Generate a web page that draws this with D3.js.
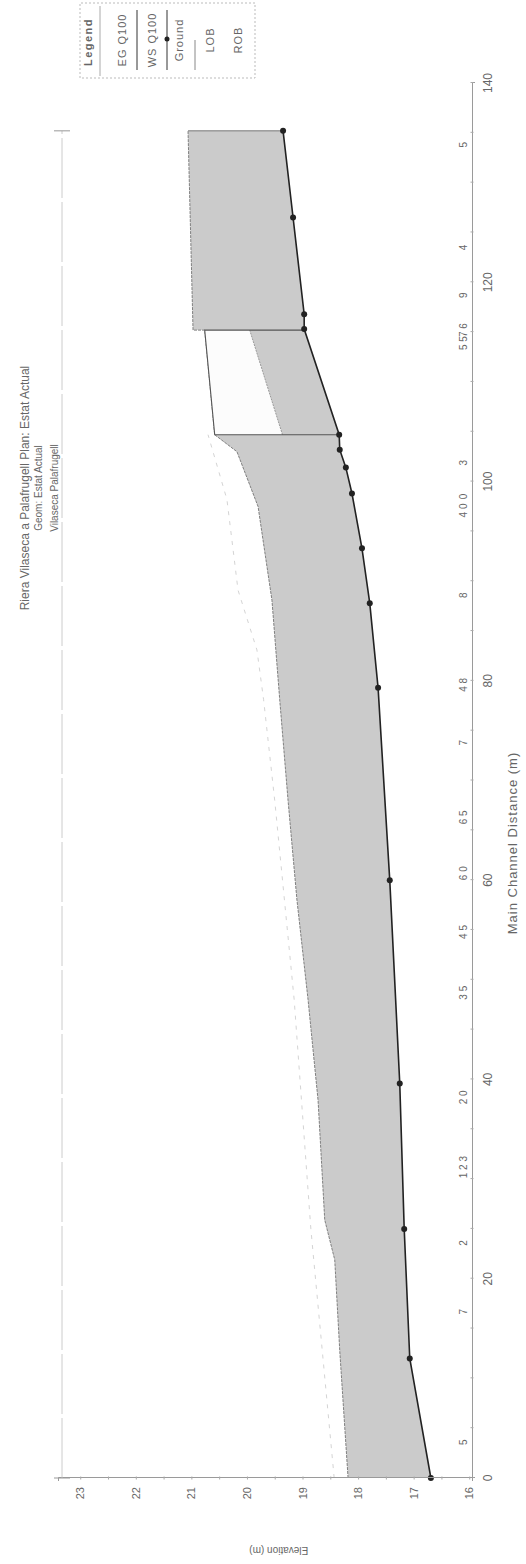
<!DOCTYPE html>
<html>
<head>
<meta charset="utf-8">
<script src="https://cdn.jsdelivr.net/npm/d3@7"></script>
<style>
  body { margin: 0; background: #fff; }
  text { font-family: "Liberation Sans", Arial, sans-serif; fill: #666; }
</style>
</head>
<body>
<svg id="chart" width="526" height="1564"></svg>
<script>
// profile values (distance along main channel in m, elevation in m)
const groundDist = [0, 12.0, 25.0, 39.6, 60.0, 79.3, 87.8, 93.3, 98.8, 101.4, 103.2, 104.7, 115.3, 116.8, 126.5, 135.2];
const groundElev = [16.69, 17.07, 17.17, 17.25, 17.43, 17.64, 17.79, 17.93, 18.11, 18.22, 18.33, 18.34, 18.97, 18.97, 19.17, 19.35];

const wsDist = [0, 12.8, 21.9, 25.9, 37.9, 48.0, 58.0, 68.0, 78.1, 88.1, 97.5, 103.0, 104.7, 115.2, 115.2, 135.2];
const wsElev = [18.18, 18.33, 18.42, 18.60, 18.72, 18.90, 19.10, 19.26, 19.41, 19.55, 19.80, 20.18, 20.58, 20.76, 20.97, 21.06];

const egDist = [0, 25.0, 48.0, 68.0, 78.1, 83.1, 89.1, 98.2, 104.7];
const egElev = [18.43, 18.85, 19.15, 19.50, 19.70, 19.82, 20.16, 20.36, 20.70];

// bridge deck: downstream face, upstream face
const bridgeDist = [104.7, 115.2];
const bridgeHigh = [20.58, 20.76];
const bridgeLow = [19.36, 19.95];

const distTicks = [0, 20, 40, 60, 80, 100, 120, 140];
const elevTicks = [16, 17, 18, 19, 20, 21, 22, 23];

const stationDist = [3.6, 16.7, 23.6, 31.2, 38.2, 48.7, 54.8, 60.7, 66.3, 73.8, 79.6, 88.6, 97.1, 98.5, 101.9, 113.9, 115.2, 118.7, 123.5, 133.8];
const stationText = ["5", "7", "2", "1 2 3", "2 0", "3 5", "4 5", "6 0", "6 5", "7", "4 8", "8", "4 0", "0", "3", "5 5", "7 6", "9", "4", "5"];

const legendItems = ["EG  Q100", "WS  Q100", "Ground", "LOB", "ROB"];

const titleText = "Riera Vilaseca a Palafrugell        Plan: Estat Actual";
const geomText = "Geom: Estat Actual";
const reachText = "Vilaseca Palafrugell";

// the chart is laid out as a normal landscape plot and then turned a quarter turn
const W = 1564, H = 526;
const svg = d3.select("#chart");
const g = svg.append("g").attr("transform", `translate(0,${W}) rotate(-90)`);

const x = d3.scaleLinear().domain([0, 140]).range([86, 1481]);
const y = d3.scaleLinear().domain([15.95, 23.4]).range([472, 58]);
const line = d3.line().x(p => x(p.d)).y(p => y(p.e));

const ground = groundDist.map((d, i) => ({d, e: groundElev[i]}));
const ws = wsDist.map((d, i) => ({d, e: wsElev[i]}));
const eg = egDist.map((d, i) => ({d, e: egElev[i]}));

// water body: WS on top, ground below
const waterPoly = ws.concat(ground.slice().reverse());
g.append("path")
  .attr("d", line(waterPoly) + "Z")
  .attr("fill", "#cbcbcb")
  .attr("stroke", "none");

// upstream closing edge
g.append("line")
  .attr("x1", x(135.2)).attr("x2", x(135.2))
  .attr("y1", y(wsElev[wsElev.length - 1])).attr("y2", y(groundElev[groundElev.length - 1]))
  .attr("stroke", "#777").attr("stroke-width", 1);

// water surface edge
g.append("path")
  .attr("d", line(ws))
  .attr("fill", "none")
  .attr("stroke", "#808080")
  .attr("stroke-width", 1)
  .attr("stroke-dasharray", "3,1");

// energy grade, faint
g.append("path")
  .attr("d", line(eg))
  .attr("fill", "none")
  .attr("stroke", "#d4d4d4")
  .attr("stroke-width", 1)
  .attr("stroke-dasharray", "4,6");

// bridge deck
const deck = [
  {d: bridgeDist[0], e: bridgeHigh[0]}, {d: bridgeDist[1], e: bridgeHigh[1]},
  {d: bridgeDist[1], e: bridgeLow[1]}, {d: bridgeDist[0], e: bridgeLow[0]}
];
g.append("path")
  .attr("d", line(deck) + "Z")
  .attr("fill", "#fcfcfc")
  .attr("stroke", "none");
g.append("path")
  .attr("d", line([deck[3], deck[2]]))
  .attr("fill", "none").attr("stroke", "#9a9a9a").attr("stroke-dasharray", "2,1");
const gAt = d => groundElev[groundDist.findIndex(v => Math.abs(v - d) < 0.2)];
g.append("path")
  .attr("d", line([
    {d: bridgeDist[0], e: gAt(104.7)}, deck[0], deck[1], {d: bridgeDist[1], e: gAt(115.3)}
  ]))
  .attr("fill", "none").attr("stroke", "#555").attr("stroke-width", 1.1);

// ground line with markers
g.append("path")
  .attr("d", line(ground))
  .attr("fill", "none")
  .attr("stroke", "#222")
  .attr("stroke-width", 1.6);
g.selectAll(".gdot").data(ground)
  .enter().append("circle")
  .attr("class", "gdot")
  .attr("cx", p => x(p.d)).attr("cy", p => y(p.e))
  .attr("r", 3)
  .attr("fill", "#222");

// distance axis (bottom of the landscape plot)
const xAxis = g.append("g").attr("transform", `translate(0,472)`);
xAxis.call(d3.axisBottom(x).tickValues(d3.range(0, 141, 5)).tickSize(3).tickFormat(""));
xAxis.selectAll(".tick line").attr("stroke", "#aaa").attr("transform", "translate(0,-1.5)");
xAxis.select(".domain").attr("stroke", "#9a9a9a");
xAxis.selectAll(".lbl").data(distTicks).enter().append("text")
  .attr("class", "lbl")
  .attr("x", d => x(d)).attr("y", 20)
  .attr("text-anchor", "middle")
  .attr("font-size", 12)
  .text(d => d);

// river station labels just above the distance axis
g.selectAll(".sta").data(stationDist).enter().append("text")
  .attr("class", "sta")
  .attr("x", d => x(d)).attr("y", 467)
  .attr("text-anchor", "middle")
  .attr("font-size", 10)
  .attr("fill", "#888")
  .text((d, i) => stationText[i]);

// elevation axis
const yAxis = g.append("g").attr("transform", `translate(86,0)`);
yAxis.call(d3.axisLeft(y).tickValues(d3.range(16, 23.01, 0.5)).tickSize(3).tickFormat(""));
yAxis.selectAll(".tick line").attr("stroke", "#aaa").attr("transform", "translate(1.5,0)");
yAxis.select(".domain").attr("stroke", "#9a9a9a");
yAxis.selectAll(".lbl").data(elevTicks).enter().append("text")
  .attr("class", "lbl")
  .attr("x", -9).attr("y", d => y(d) + 4)
  .attr("text-anchor", "end")
  .attr("font-size", 11)
  .text(d => d);

g.append("text")
  .attr("transform", `translate(17,${(y(16) + y(23)) / 2 + 4}) rotate(-90)`)
  .attr("text-anchor", "middle")
  .attr("font-size", 10)
  .text("Elevation (m)");

g.append("text")
  .attr("x", 721).attr("y", 517)
  .attr("text-anchor", "middle")
  .attr("font-size", 13)
  .attr("letter-spacing", 1)
  .text("Main Channel Distance (m)");

// titles and reach line at the top
g.append("text").attr("x", 1076).attr("y", 29).attr("text-anchor", "middle").attr("font-size", 12).attr("fill", "#555").text(titleText);
g.append("text").attr("x", 1076).attr("y", 42).attr("text-anchor", "middle").attr("font-size", 10).text(geomText);
g.append("text").attr("x", 1076).attr("y", 58).attr("text-anchor", "middle").attr("font-size", 10).text(reachText);

g.append("line")
  .attr("x1", x(0)).attr("x2", x(135.2)).attr("y1", 62).attr("y2", 62)
  .attr("stroke", "#ccc").attr("stroke-width", 1).attr("stroke-dasharray", "60,4");
[0, 135.2].forEach(d => {
  g.append("line").attr("x1", x(d)).attr("x2", x(d)).attr("y1", 54).attr("y2", 70)
    .attr("stroke", "#999");
});

// legend box (right of the landscape plot, top aligned)
const lg = g.append("g");
lg.append("rect")
  .attr("x", 1486).attr("y", 80).attr("width", 75).attr("height", 175)
  .attr("fill", "#fff").attr("stroke", "#bbb").attr("stroke-dasharray", "2,2");
lg.append("text").attr("x", 1522).attr("y", 92).attr("text-anchor", "middle").attr("font-size", 11)
  .attr("font-weight", "bold").attr("letter-spacing", 1.5).attr("fill", "#444").text("Legend");
lg.append("line").attr("x1", 1488).attr("x2", 1558).attr("y1", 100).attr("y2", 100).attr("stroke", "#aaa");
const rowY = [126, 156, 183, 214, 242];
lg.selectAll(".lt").data(legendItems).enter().append("text")
  .attr("class", "lt")
  .attr("x", 1524).attr("y", (d, i) => rowY[i])
  .attr("text-anchor", "middle")
  .attr("font-size", 11)
  .attr("letter-spacing", 1)
  .text(d => d);
lg.append("line").attr("x1", 1494).attr("x2", 1554).attr("y1", 137).attr("y2", 137).attr("stroke", "#333");
lg.append("line").attr("x1", 1494).attr("x2", 1554).attr("y1", 167).attr("y2", 167).attr("stroke", "#333");
lg.append("circle").attr("cx", 1525).attr("cy", 167).attr("r", 2.5).attr("fill", "#222");
lg.append("line").attr("x1", 1494).attr("x2", 1524).attr("y1", 195).attr("y2", 195).attr("stroke", "#888");
</script>
</body>
</html>
